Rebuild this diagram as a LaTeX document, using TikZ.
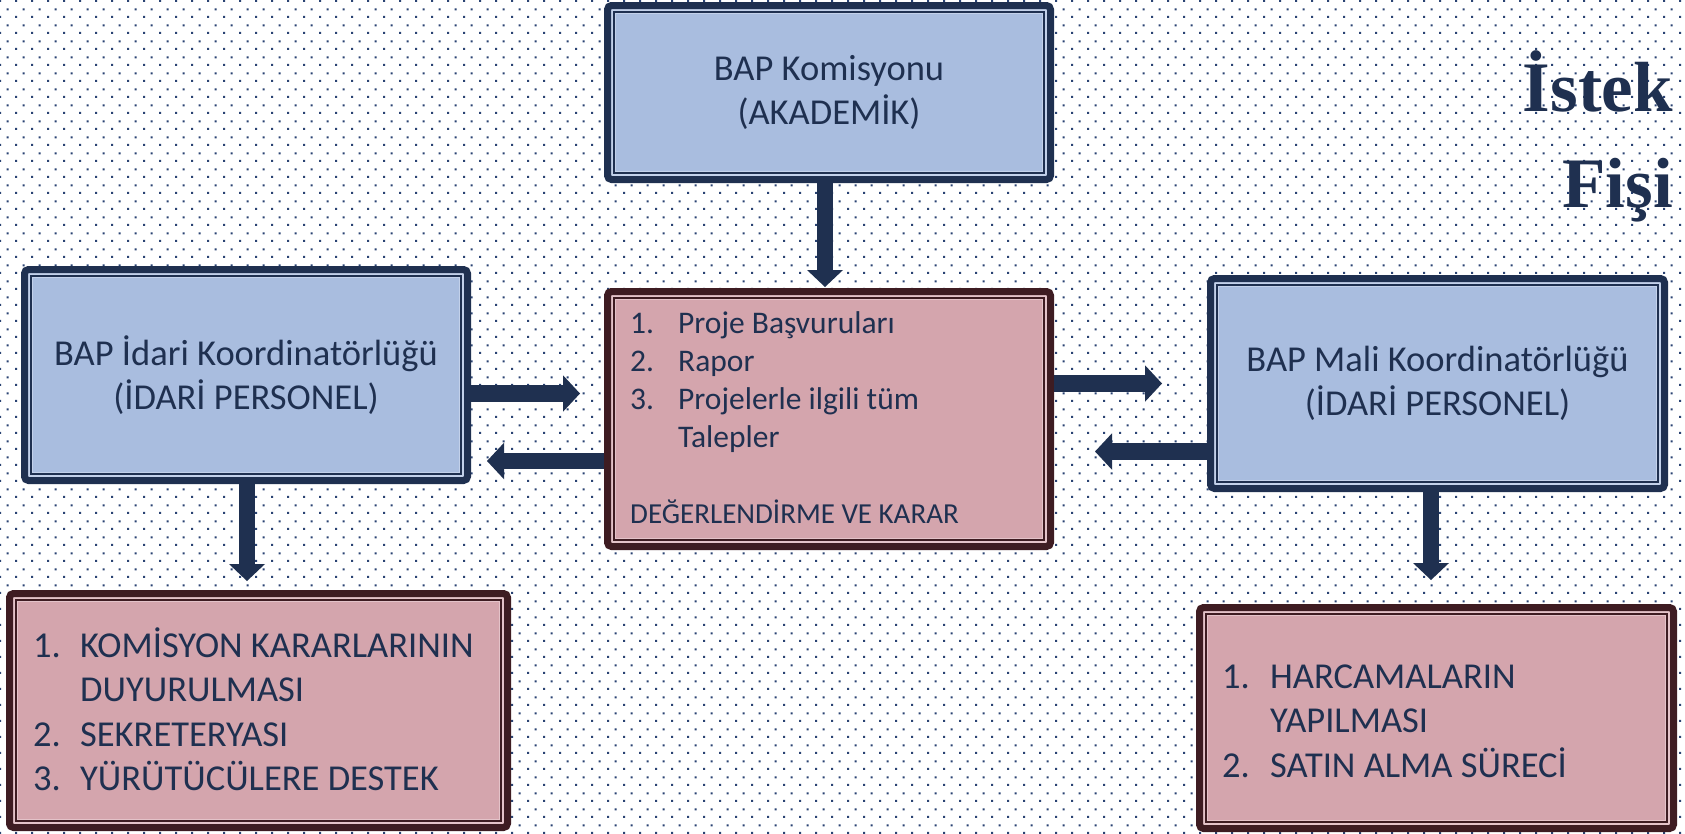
\documentclass[tikz,border=0pt]{standalone}
\usepackage{fontspec}
\setmainfont{Carlito}
\newfontfamily\titlefont{Liberation Serif}
\usetikzlibrary{patterns,calc}
\definecolor{navy}{HTML}{1F3050}
\definecolor{dotc}{HTML}{2A4373}
\definecolor{bluefill}{HTML}{A9BDDF}
\definecolor{bluestrip}{HTML}{C3D1EA}
\definecolor{pinkfill}{HTML}{D4A5AD}
\definecolor{pinkstrip}{HTML}{E4C3C9}
\definecolor{maroon}{HTML}{3E1C22}
\pgfdeclarepatternformonly{bgdots}{\pgfpointorigin}{\pgfpoint{16pt}{16pt}}{\pgfpoint{16pt}{16pt}}{%
  \pgfpathrectangle{\pgfpoint{0pt}{0pt}}{\pgfpoint{2.2pt}{2.2pt}}%
  \pgfpathrectangle{\pgfpoint{8pt}{8pt}}{\pgfpoint{2.2pt}{2.2pt}}%
  \pgfusepath{fill}}
% block arrows: #1 start, #2 tip
\newcommand\arrowR[2]{\draw[hshaft] (#1) -- ([xshift=-16pt]#2);
  \fill[navy] (#2) -- ++(-17,18.25) -- ++(0,-36.5) -- cycle;}
\newcommand\arrowL[2]{\draw[hshaft] (#1) -- ([xshift=16pt]#2);
  \fill[navy] (#2) -- ++(17,18.25) -- ++(0,-36.5) -- cycle;}
\newcommand\arrowD[2]{\draw[vshaft] (#1) -- ([yshift=16pt]#2);
  \fill[navy] (#2) -- ++(18,-17) -- ++(-36,0) -- cycle;}
\begin{document}
\begin{tikzpicture}[x=1pt,y=-1pt,
  hshaft/.style={draw=navy, line width=16.5pt},
  vshaft/.style={draw=navy, line width=16pt},
  boxbase/.style={rectangle, rounded corners=4pt, line width=7pt, inner sep=0pt,
    align=center, text=navy, font=\fontsize{36.5}{44.3}\selectfont},
  framed/.style n args={3}{boxbase, draw=#1, fill=#3, path picture={
    \draw[#1, line width=1.6pt, fill=#2, sharp corners]
      ([shift={(6.5pt,-6.5pt)}]path picture bounding box.north west) rectangle
      ([shift={(-6.5pt,6.5pt)}]path picture bounding box.south east);
    \draw[#3, line width=1.1pt, sharp corners]
      ([shift={(7.9pt,-7.9pt)}]path picture bounding box.north west) rectangle
      ([shift={(-7.9pt,7.9pt)}]path picture bounding box.south east);
  }},
  bluebox/.style={framed={navy}{bluefill}{bluestrip}},
  pinkbox/.style={framed={maroon}{pinkfill}{pinkstrip}},
  bigtext/.style={inner sep=0pt, text=navy, font=\fontsize{36.5}{44.5}\selectfont},
  midtext/.style={inner sep=0pt, text=navy, font=\fontsize{31.5}{38.3}\selectfont},
  smalltext/.style={inner sep=0pt, text=navy, font=\fontsize{29}{35}\selectfont},
  titletext/.style={inner sep=0pt, text=navy, font=\titlefont\bfseries\fontsize{71}{80}\selectfont}
]
\useasboundingbox (0,0) rectangle (1685,833);
\fill[white] (0,0) rectangle (1685,833);
\fill[pattern=bgdots, pattern color=dotc] (0,0) rectangle (1685,833);

% boxes
\node[bluebox, minimum width=443pt, minimum height=174pt] (b1) at (829,92.5)
  {BAP Komisyonu\\(AKADEMİK)};
\node[pinkbox, minimum width=443pt, minimum height=255pt] (b2) at (829,419) {};
\node[bluebox, minimum width=443pt, minimum height=211pt] (b3) at (246,375)
  {BAP İdari Koordinatörlüğü\\(İDARİ PERSONEL)};
\node[pinkbox, minimum width=498pt, minimum height=234pt] (b4) at (258.5,710.5) {};
\node[bluebox, minimum width=454pt, minimum height=210pt] (b5) at (1437.5,383.5)
  {BAP Mali Koordinatörlüğü\\(İDARİ PERSONEL)};
\node[pinkbox, minimum width=474pt, minimum height=221pt] (b6) at (1436.5,718) {};

% texts in list boxes
\node[midtext, anchor=base west] (l2) at (630,333)
  {\begin{tabular}[t]{@{}p{48pt}@{}l@{}}1.&Proje Başvuruları\\2.&Rapor\\3.&Projelerle ilgili tüm\\&Talepler\end{tabular}};
\node[smalltext, anchor=base west] (k2) at (630,523) {DEĞERLENDİRME VE KARAR};
\node[bigtext, anchor=base west] (l4) at (33,657)
  {\begin{tabular}[t]{@{}p{47pt}@{}l@{}}1.&KOMİSYON KARARLARININ\\&DUYURULMASI\\2.&SEKRETERYASI\\3.&YÜRÜTÜCÜLERE DESTEK\end{tabular}};
\node[bigtext, anchor=base west] (l6) at (1222,688)
  {\begin{tabular}[t]{@{}p{48pt}@{}l@{}}1.&HARCAMALARIN\\&YAPILMASI\\2.&SATIN ALMA SÜRECİ\end{tabular}};

% title
\node[titletext, anchor=base east] (ttl1) at (1673,111) {İstek};
\node[titletext, anchor=base east] (ttl2) at (1673,207) {Fişi};

% arrow tips
\coordinate (t1) at (825,287);
\coordinate (t2) at (580,393.5);
\coordinate (t3) at (487,461);
\coordinate (t4) at (1162,383.5);
\coordinate (t5) at (1095,451.5);
\coordinate (t6) at (247,581);
\coordinate (t7) at (1431,580);

\arrowD{b1.south -| t1}{t1}
\arrowR{b3.east |- t2}{t2}
\arrowL{b2.west |- t3}{t3}
\arrowR{b2.east |- t4}{t4}
\arrowL{b5.west |- t5}{t5}
\arrowD{b3.south -| t6}{t6}
\arrowD{b5.south -| t7}{t7}
\end{tikzpicture}
\end{document}
